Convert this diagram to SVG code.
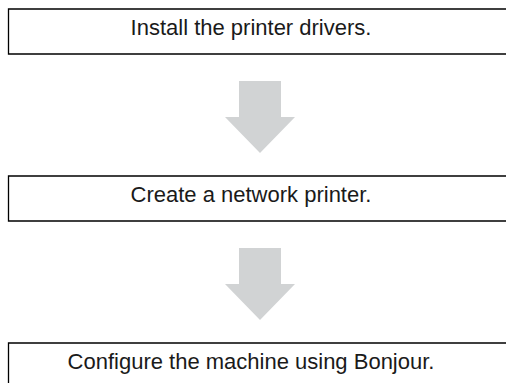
<svg xmlns="http://www.w3.org/2000/svg" width="506" height="383" viewBox="0 0 506 383">
<style>
.box{fill:#fff;stroke:#000;stroke-width:1.3}
.lbl{font-family:"Liberation Sans",Arial,sans-serif;font-size:22px;fill:#1a1a1a;text-anchor:middle}
.arr{fill:#d1d3d4}
</style>
<rect width="506" height="383" fill="#fff"/>
<g id="connectors">
<polygon class="arr" points="239,81 281,81 281,117 295,117 260,153 225,117 239,117"/>
<polygon class="arr" points="239,248 281,248 281,284 295,284 260,320 225,284 239,284"/>
</g>
<g id="step1">
<path class="box" d="M520,9 H8.5 V54 H520"/>
<text class="lbl" x="251" y="35">Install the printer drivers.</text>
</g>
<g id="step2">
<path class="box" d="M520,176 H8.5 V221 H520"/>
<text class="lbl" x="251" y="202">Create a network printer.</text>
</g>
<g id="step3">
<path class="box" d="M520,343 H8.5 V388 H520"/>
<text class="lbl" x="251" y="369">Configure the machine using Bonjour.</text>
</g>
</svg>
